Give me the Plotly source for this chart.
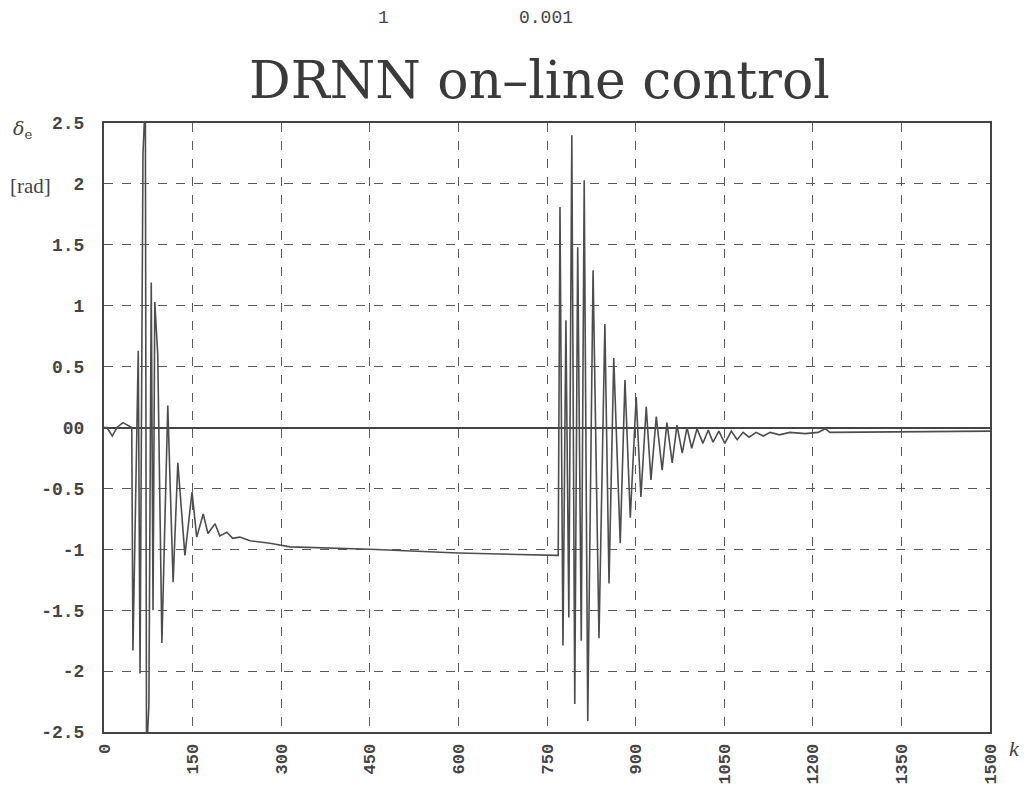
import plotly.graph_objects as go

# ---- data ----
k_vals = [0, 5, 14, 22, 32, 41, 47, 49, 58, 61, 66, 70, 72, 76, 80, 83, 86, 91, 98,
          108, 117, 125, 137, 149, 157, 168, 176, 188, 196, 208, 218, 230, 247, 281, 315,
          450, 600, 767, 769,
          772, 777, 782, 787, 792, 797, 802, 808, 813, 819, 828, 838, 848, 855, 863, 874,
          882, 891, 901, 909, 918, 926, 935, 945, 953, 962, 970, 979, 987, 995, 1004, 1014,
          1023, 1031, 1041, 1051, 1062, 1072, 1082, 1092, 1104, 1116, 1128, 1144, 1161, 1187,
          1209, 1221, 1229, 1500]
delta_e = [0.0, 0.0, -0.07, 0.0, 0.04, 0.02, 0.0, -1.83, 0.63, -2.02, 2.25, 2.7, -2.7, -2.28, 1.19, -1.5, 1.03, 0.6, -1.77,
           0.18, -1.27, -0.29, -1.05, -0.53, -0.90, -0.71, -0.87, -0.79, -0.89, -0.86, -0.91, -0.90, -0.93, -0.95, -0.98,
           -1.00, -1.03, -1.05, -1.05,
           1.81, -1.79, 0.88, -1.56, 2.40, -2.27, 1.48, -1.75, 2.03, -2.41, 1.29, -1.73, 0.85, -1.28, 0.57, -0.95,
           0.39, -0.74, 0.25, -0.57, 0.17, -0.43, 0.09, -0.35, 0.04, -0.29, 0.02, -0.21, 0.0, -0.17, -0.01, -0.13,
           -0.02, -0.12, -0.03, -0.13, -0.03, -0.10, -0.04, -0.08, -0.04, -0.07, -0.04, -0.06, -0.04, -0.05,
           -0.04, -0.01, -0.04, -0.03]

x_ticks = [0, 150, 300, 450, 600, 750, 900, 1050, 1200, 1350, 1500]
y_ticks = [-2.5, -2, -1.5, -1, -0.5, 0, 0.5, 1, 1.5, 2, 2.5]
y_tick_text = ["-2.5", "-2", "-1.5", "-1", "-0.5", "00", "0.5", "1", "1.5", "2", "2.5"]

# ---- layout geometry (page has an 8px body margin) ----
OFF = 8
W, H = 1011, 779
L = 104 - OFF
T = 123 - OFF
R = W - (990 - OFF)
B = H - (732 - OFF)
PW, PH = W - L - R, H - T - B


def px(xs):
    return (xs - OFF - L) / PW


def py(ys):
    return (H - B - (ys - OFF)) / PH


LINE = "#4d4d4d"
GRID = "#5a5a5a"
mono_y = dict(family="Liberation Mono", size=18, color="#444444", weight="bold")
mono_x = dict(family="Liberation Mono", size=17, color="#444444", weight="bold")

fig = go.Figure()
fig.add_trace(go.Scatter(x=k_vals, y=delta_e, mode="lines",
                         line=dict(color=LINE, width=1.6), showlegend=False,
                         hoverinfo="skip"))

fig.update_layout(
    width=W, height=H,
    margin=dict(l=L, r=R, t=T, b=B),
    paper_bgcolor="white", plot_bgcolor="white",
    showlegend=False,
)
fig.update_xaxes(range=[0, 1500], tickvals=x_ticks, ticktext=[str(v) for v in x_ticks],
                 tickangle=-90, tickfont=mono_x, showgrid=True, gridcolor=GRID,
                 griddash="dash", gridwidth=1.3, showline=True, linecolor="#444444",
                 linewidth=2, mirror=True, zeroline=False, ticks="", ticklen=0,
                 ticklabelstandoff=3, automargin=False)
fig.update_yaxes(range=[-2.5, 2.5], tickvals=y_ticks, ticktext=y_tick_text,
                 tickfont=mono_y, showgrid=True, gridcolor=GRID, griddash="dash",
                 gridwidth=1.3, showline=True, linecolor="#444444", linewidth=2,
                 mirror=True, zeroline=True, zerolinecolor="#444444", zerolinewidth=2,
                 ticks="", ticklen=0, ticklabelstandoff=14, automargin=False)

ann = [
    dict(text="1", x=px(383), y=py(18), font=dict(family="Liberation Mono", size=18, color="#444")),
    dict(text="0.001", x=px(546), y=py(18), font=dict(family="Liberation Mono", size=18, color="#444")),
    dict(text="DRNN on\u2013line control", x=px(539), y=py(80),
         font=dict(family="DejaVu Serif", size=52, color="#3a3a3a")),
    dict(text="<i>δ</i><sub>e</sub>", x=px(22), y=py(130),
         font=dict(family="DejaVu Serif", size=19, color="#444")),
    dict(text="[rad]", x=px(30), y=py(186),
         font=dict(family="Liberation Serif", size=21, color="#444")),
    dict(text="<i>k</i>", x=px(1014), y=py(748),
         font=dict(family="Liberation Serif", size=22, color="#444")),
]
for a in ann:
    fig.add_annotation(xref="paper", yref="paper", showarrow=False,
                       xanchor="center", yanchor="middle", **a)

fig.write_html("out.html")
